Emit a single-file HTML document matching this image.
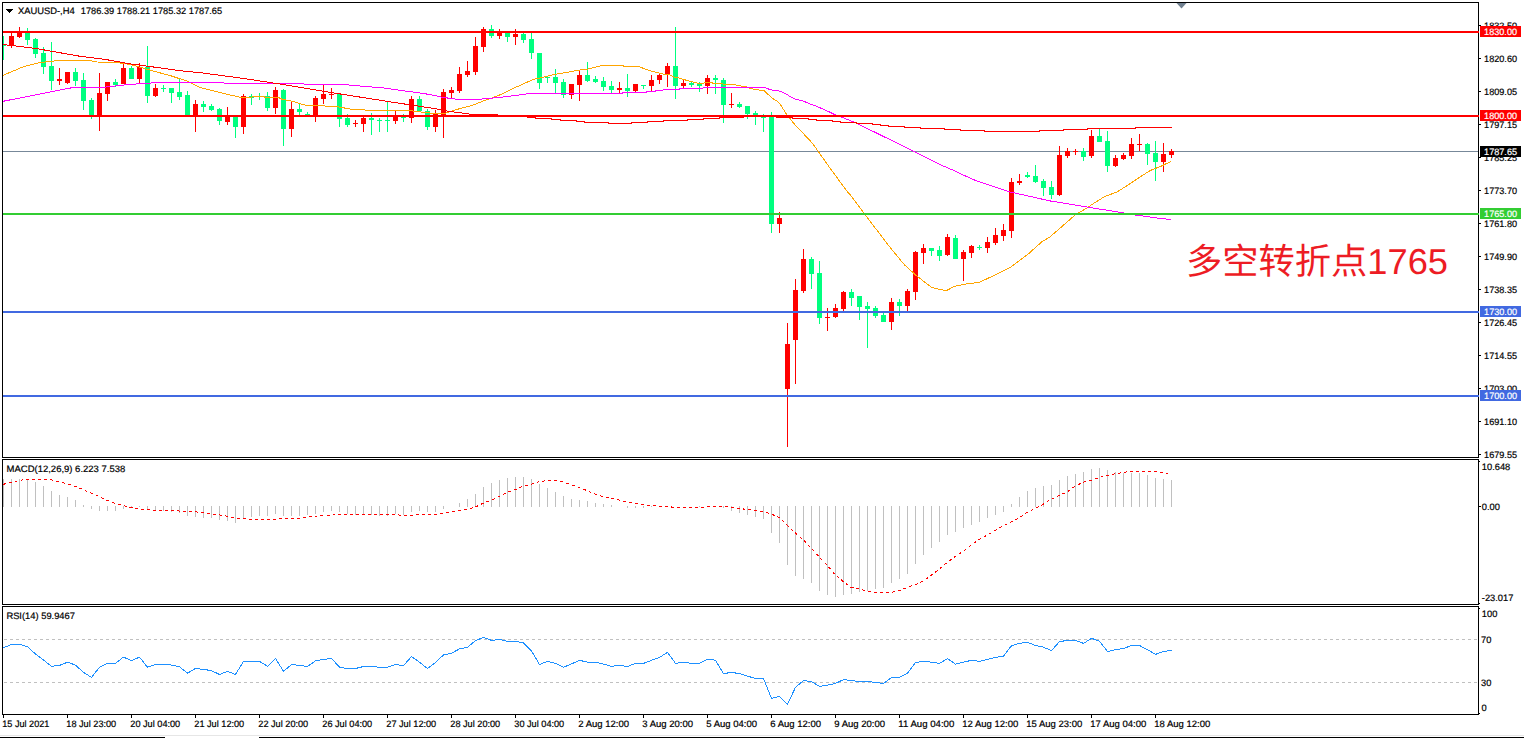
<!DOCTYPE html>
<html><head><meta charset="utf-8"><title>XAUUSD H4</title>
<style>
html,body{margin:0;padding:0;background:#fff;}
body{width:1524px;height:738px;overflow:hidden;font-family:"Liberation Sans",sans-serif;}
svg{display:block;}
</style></head><body>
<svg width="1524" height="738" viewBox="0 0 1524 738" shape-rendering="crispEdges" font-family="'Liberation Sans', sans-serif" text-rendering="geometricPrecision"><rect x="0" y="0" width="1524" height="738" fill="#fff"/>
<rect x="3" y="151" width="1475" height="1" fill="#778899"/>
<rect x="3" y="36" width="1" height="24" fill="#00FF7F"/>
<rect x="3" y="45" width="3" height="1" fill="#00FF7F"/>
<rect x="11" y="32" width="1" height="16" fill="#FF0000"/>
<rect x="9" y="36" width="5" height="9" fill="#FF0000"/>
<rect x="19" y="27" width="1" height="11" fill="#FF0000"/>
<rect x="17" y="32" width="5" height="5" fill="#FF0000"/>
<rect x="27" y="28" width="1" height="17" fill="#00FF7F"/>
<rect x="25" y="32" width="5" height="8" fill="#00FF7F"/>
<rect x="35" y="38" width="1" height="20" fill="#00FF7F"/>
<rect x="33" y="39" width="5" height="15" fill="#00FF7F"/>
<rect x="43" y="47" width="1" height="27" fill="#00FF7F"/>
<rect x="41" y="53" width="5" height="14" fill="#00FF7F"/>
<rect x="51" y="42" width="1" height="48" fill="#00FF7F"/>
<rect x="49" y="66" width="5" height="15" fill="#00FF7F"/>
<rect x="59" y="68" width="1" height="17" fill="#FF0000"/>
<rect x="57" y="79" width="5" height="2" fill="#FF0000"/>
<rect x="67" y="72" width="1" height="12" fill="#FF0000"/>
<rect x="65" y="72" width="5" height="11" fill="#FF0000"/>
<rect x="75" y="68" width="1" height="18" fill="#00FF7F"/>
<rect x="73" y="72" width="5" height="9" fill="#00FF7F"/>
<rect x="83" y="73" width="1" height="37" fill="#00FF7F"/>
<rect x="81" y="80" width="5" height="21" fill="#00FF7F"/>
<rect x="91" y="98" width="1" height="21" fill="#00FF7F"/>
<rect x="89" y="100" width="5" height="16" fill="#00FF7F"/>
<rect x="99" y="73" width="1" height="58" fill="#FF0000"/>
<rect x="97" y="93" width="5" height="23" fill="#FF0000"/>
<rect x="107" y="82" width="1" height="19" fill="#FF0000"/>
<rect x="105" y="82" width="5" height="12" fill="#FF0000"/>
<rect x="115" y="79" width="1" height="8" fill="#00FF7F"/>
<rect x="113" y="82" width="5" height="3" fill="#00FF7F"/>
<rect x="123" y="64" width="1" height="20" fill="#FF0000"/>
<rect x="121" y="68" width="5" height="16" fill="#FF0000"/>
<rect x="131" y="66" width="1" height="13" fill="#00FF7F"/>
<rect x="129" y="68" width="5" height="11" fill="#00FF7F"/>
<rect x="139" y="63" width="1" height="20" fill="#FF0000"/>
<rect x="137" y="67" width="5" height="12" fill="#FF0000"/>
<rect x="147" y="46" width="1" height="57" fill="#00FF7F"/>
<rect x="145" y="67" width="5" height="29" fill="#00FF7F"/>
<rect x="155" y="84" width="1" height="13" fill="#FF0000"/>
<rect x="153" y="88" width="5" height="8" fill="#FF0000"/>
<rect x="163" y="85" width="1" height="7" fill="#00FF7F"/>
<rect x="161" y="88" width="5" height="1" fill="#00FF7F"/>
<rect x="171" y="88" width="1" height="15" fill="#00FF7F"/>
<rect x="169" y="88" width="5" height="5" fill="#00FF7F"/>
<rect x="179" y="79" width="1" height="21" fill="#00FF7F"/>
<rect x="177" y="92" width="5" height="5" fill="#00FF7F"/>
<rect x="187" y="91" width="1" height="25" fill="#00FF7F"/>
<rect x="185" y="95" width="5" height="21" fill="#00FF7F"/>
<rect x="195" y="100" width="1" height="32" fill="#FF0000"/>
<rect x="193" y="104" width="5" height="12" fill="#FF0000"/>
<rect x="203" y="101" width="1" height="11" fill="#00FF7F"/>
<rect x="201" y="104" width="5" height="3" fill="#00FF7F"/>
<rect x="211" y="104" width="1" height="7" fill="#00FF7F"/>
<rect x="209" y="106" width="5" height="4" fill="#00FF7F"/>
<rect x="219" y="108" width="1" height="17" fill="#00FF7F"/>
<rect x="217" y="109" width="5" height="12" fill="#00FF7F"/>
<rect x="227" y="107" width="1" height="18" fill="#FF0000"/>
<rect x="225" y="115" width="5" height="7" fill="#FF0000"/>
<rect x="235" y="116" width="1" height="22" fill="#00FF7F"/>
<rect x="233" y="116" width="5" height="11" fill="#00FF7F"/>
<rect x="243" y="94" width="1" height="40" fill="#FF0000"/>
<rect x="241" y="96" width="5" height="31" fill="#FF0000"/>
<rect x="251" y="94" width="1" height="11" fill="#00FF7F"/>
<rect x="249" y="96" width="5" height="2" fill="#00FF7F"/>
<rect x="259" y="93" width="1" height="7" fill="#00FF7F"/>
<rect x="267" y="92" width="1" height="19" fill="#00FF7F"/>
<rect x="265" y="96" width="5" height="12" fill="#00FF7F"/>
<rect x="275" y="87" width="1" height="27" fill="#FF0000"/>
<rect x="273" y="90" width="5" height="18" fill="#FF0000"/>
<rect x="283" y="89" width="1" height="57" fill="#00FF7F"/>
<rect x="281" y="90" width="5" height="39" fill="#00FF7F"/>
<rect x="291" y="102" width="1" height="35" fill="#FF0000"/>
<rect x="289" y="109" width="5" height="20" fill="#FF0000"/>
<rect x="299" y="104" width="1" height="11" fill="#00FF7F"/>
<rect x="297" y="109" width="5" height="3" fill="#00FF7F"/>
<rect x="307" y="112" width="1" height="4" fill="#00FF7F"/>
<rect x="305" y="114" width="5" height="2" fill="#00FF7F"/>
<rect x="315" y="96" width="1" height="26" fill="#FF0000"/>
<rect x="313" y="98" width="5" height="18" fill="#FF0000"/>
<rect x="323" y="85" width="1" height="19" fill="#FF0000"/>
<rect x="321" y="94" width="5" height="5" fill="#FF0000"/>
<rect x="331" y="88" width="1" height="11" fill="#FF0000"/>
<rect x="329" y="94" width="5" height="1" fill="#FF0000"/>
<rect x="339" y="93" width="1" height="34" fill="#00FF7F"/>
<rect x="337" y="94" width="5" height="25" fill="#00FF7F"/>
<rect x="347" y="114" width="1" height="13" fill="#00FF7F"/>
<rect x="345" y="118" width="5" height="7" fill="#00FF7F"/>
<rect x="355" y="120" width="1" height="7" fill="#FF0000"/>
<rect x="353" y="123" width="5" height="1" fill="#FF0000"/>
<rect x="363" y="116" width="1" height="16" fill="#FF0000"/>
<rect x="361" y="118" width="5" height="6" fill="#FF0000"/>
<rect x="371" y="113" width="1" height="22" fill="#00FF7F"/>
<rect x="369" y="118" width="5" height="2" fill="#00FF7F"/>
<rect x="379" y="118" width="1" height="14" fill="#00FF7F"/>
<rect x="377" y="120" width="5" height="1" fill="#00FF7F"/>
<rect x="387" y="102" width="1" height="30" fill="#00FF7F"/>
<rect x="385" y="120" width="5" height="1" fill="#00FF7F"/>
<rect x="395" y="111" width="1" height="13" fill="#FF0000"/>
<rect x="393" y="116" width="5" height="5" fill="#FF0000"/>
<rect x="403" y="114" width="1" height="8" fill="#00FF7F"/>
<rect x="401" y="117" width="5" height="1" fill="#00FF7F"/>
<rect x="411" y="96" width="1" height="27" fill="#FF0000"/>
<rect x="409" y="99" width="5" height="19" fill="#FF0000"/>
<rect x="419" y="96" width="1" height="15" fill="#00FF7F"/>
<rect x="417" y="99" width="5" height="12" fill="#00FF7F"/>
<rect x="427" y="109" width="1" height="21" fill="#00FF7F"/>
<rect x="425" y="111" width="5" height="16" fill="#00FF7F"/>
<rect x="435" y="110" width="1" height="22" fill="#FF0000"/>
<rect x="433" y="114" width="5" height="13" fill="#FF0000"/>
<rect x="443" y="89" width="1" height="49" fill="#FF0000"/>
<rect x="441" y="92" width="5" height="24" fill="#FF0000"/>
<rect x="451" y="87" width="1" height="11" fill="#FF0000"/>
<rect x="449" y="90" width="5" height="3" fill="#FF0000"/>
<rect x="459" y="67" width="1" height="26" fill="#FF0000"/>
<rect x="457" y="74" width="5" height="17" fill="#FF0000"/>
<rect x="467" y="61" width="1" height="16" fill="#FF0000"/>
<rect x="465" y="71" width="5" height="4" fill="#FF0000"/>
<rect x="475" y="37" width="1" height="38" fill="#FF0000"/>
<rect x="473" y="46" width="5" height="26" fill="#FF0000"/>
<rect x="483" y="27" width="1" height="25" fill="#FF0000"/>
<rect x="481" y="29" width="5" height="18" fill="#FF0000"/>
<rect x="491" y="25" width="1" height="13" fill="#00FF7F"/>
<rect x="489" y="29" width="5" height="7" fill="#00FF7F"/>
<rect x="499" y="29" width="1" height="10" fill="#FF0000"/>
<rect x="497" y="32" width="5" height="4" fill="#FF0000"/>
<rect x="507" y="32" width="1" height="10" fill="#00FF7F"/>
<rect x="505" y="32" width="5" height="5" fill="#00FF7F"/>
<rect x="515" y="29" width="1" height="16" fill="#FF0000"/>
<rect x="513" y="34" width="5" height="3" fill="#FF0000"/>
<rect x="523" y="33" width="1" height="10" fill="#00FF7F"/>
<rect x="521" y="34" width="5" height="6" fill="#00FF7F"/>
<rect x="531" y="33" width="1" height="26" fill="#00FF7F"/>
<rect x="529" y="39" width="5" height="14" fill="#00FF7F"/>
<rect x="539" y="53" width="1" height="36" fill="#00FF7F"/>
<rect x="537" y="53" width="5" height="30" fill="#00FF7F"/>
<rect x="547" y="76" width="1" height="7" fill="#00FF7F"/>
<rect x="545" y="77" width="5" height="1" fill="#00FF7F"/>
<rect x="555" y="69" width="1" height="24" fill="#00FF7F"/>
<rect x="553" y="77" width="5" height="6" fill="#00FF7F"/>
<rect x="563" y="79" width="1" height="19" fill="#00FF7F"/>
<rect x="561" y="82" width="5" height="13" fill="#00FF7F"/>
<rect x="571" y="84" width="1" height="15" fill="#FF0000"/>
<rect x="569" y="84" width="5" height="11" fill="#FF0000"/>
<rect x="579" y="71" width="1" height="30" fill="#FF0000"/>
<rect x="577" y="75" width="5" height="10" fill="#FF0000"/>
<rect x="587" y="62" width="1" height="20" fill="#00FF7F"/>
<rect x="585" y="75" width="5" height="6" fill="#00FF7F"/>
<rect x="595" y="76" width="1" height="7" fill="#00FF7F"/>
<rect x="593" y="79" width="5" height="3" fill="#00FF7F"/>
<rect x="603" y="77" width="1" height="14" fill="#00FF7F"/>
<rect x="601" y="81" width="5" height="6" fill="#00FF7F"/>
<rect x="611" y="81" width="1" height="12" fill="#00FF7F"/>
<rect x="609" y="86" width="5" height="4" fill="#00FF7F"/>
<rect x="619" y="82" width="1" height="11" fill="#FF0000"/>
<rect x="617" y="88" width="5" height="2" fill="#FF0000"/>
<rect x="627" y="74" width="1" height="23" fill="#00FF7F"/>
<rect x="625" y="88" width="5" height="3" fill="#00FF7F"/>
<rect x="635" y="84" width="1" height="8" fill="#FF0000"/>
<rect x="633" y="84" width="5" height="7" fill="#FF0000"/>
<rect x="643" y="85" width="1" height="4" fill="#00FF7F"/>
<rect x="641" y="85" width="5" height="1" fill="#00FF7F"/>
<rect x="651" y="75" width="1" height="16" fill="#FF0000"/>
<rect x="649" y="80" width="5" height="6" fill="#FF0000"/>
<rect x="659" y="74" width="1" height="10" fill="#FF0000"/>
<rect x="657" y="75" width="5" height="5" fill="#FF0000"/>
<rect x="667" y="63" width="1" height="24" fill="#FF0000"/>
<rect x="665" y="66" width="5" height="9" fill="#FF0000"/>
<rect x="675" y="27" width="1" height="72" fill="#00FF7F"/>
<rect x="673" y="66" width="5" height="20" fill="#00FF7F"/>
<rect x="683" y="80" width="1" height="8" fill="#FF0000"/>
<rect x="681" y="83" width="5" height="3" fill="#FF0000"/>
<rect x="691" y="82" width="1" height="5" fill="#00FF7F"/>
<rect x="689" y="83" width="5" height="2" fill="#00FF7F"/>
<rect x="699" y="82" width="1" height="10" fill="#00FF7F"/>
<rect x="697" y="83" width="5" height="3" fill="#00FF7F"/>
<rect x="707" y="75" width="1" height="19" fill="#FF0000"/>
<rect x="705" y="78" width="5" height="8" fill="#FF0000"/>
<rect x="715" y="75" width="1" height="19" fill="#00FF7F"/>
<rect x="713" y="78" width="5" height="2" fill="#00FF7F"/>
<rect x="723" y="78" width="1" height="45" fill="#00FF7F"/>
<rect x="721" y="80" width="5" height="25" fill="#00FF7F"/>
<rect x="731" y="93" width="1" height="15" fill="#FF0000"/>
<rect x="729" y="104" width="5" height="1" fill="#FF0000"/>
<rect x="739" y="102" width="1" height="6" fill="#00FF7F"/>
<rect x="737" y="104" width="5" height="3" fill="#00FF7F"/>
<rect x="747" y="106" width="1" height="13" fill="#00FF7F"/>
<rect x="745" y="106" width="5" height="8" fill="#00FF7F"/>
<rect x="755" y="111" width="1" height="14" fill="#00FF7F"/>
<rect x="753" y="113" width="5" height="3" fill="#00FF7F"/>
<rect x="763" y="114" width="1" height="18" fill="#00FF7F"/>
<rect x="761" y="116" width="5" height="2" fill="#00FF7F"/>
<rect x="771" y="112" width="1" height="121" fill="#00FF7F"/>
<rect x="769" y="115" width="5" height="109" fill="#00FF7F"/>
<rect x="779" y="212" width="1" height="21" fill="#FF0000"/>
<rect x="777" y="218" width="5" height="6" fill="#FF0000"/>
<rect x="787" y="323" width="1" height="124" fill="#FF0000"/>
<rect x="785" y="344" width="5" height="45" fill="#FF0000"/>
<rect x="795" y="279" width="1" height="105" fill="#FF0000"/>
<rect x="793" y="290" width="5" height="50" fill="#FF0000"/>
<rect x="803" y="249" width="1" height="44" fill="#FF0000"/>
<rect x="801" y="259" width="5" height="32" fill="#FF0000"/>
<rect x="811" y="257" width="1" height="32" fill="#00FF7F"/>
<rect x="809" y="259" width="5" height="15" fill="#00FF7F"/>
<rect x="819" y="261" width="1" height="63" fill="#00FF7F"/>
<rect x="817" y="273" width="5" height="45" fill="#00FF7F"/>
<rect x="827" y="308" width="1" height="23" fill="#FF0000"/>
<rect x="825" y="317" width="5" height="1" fill="#FF0000"/>
<rect x="835" y="304" width="1" height="14" fill="#FF0000"/>
<rect x="833" y="308" width="5" height="9" fill="#FF0000"/>
<rect x="843" y="291" width="1" height="20" fill="#FF0000"/>
<rect x="841" y="292" width="5" height="17" fill="#FF0000"/>
<rect x="851" y="289" width="1" height="17" fill="#00FF7F"/>
<rect x="849" y="292" width="5" height="6" fill="#00FF7F"/>
<rect x="859" y="296" width="1" height="24" fill="#00FF7F"/>
<rect x="857" y="296" width="5" height="11" fill="#00FF7F"/>
<rect x="867" y="302" width="1" height="46" fill="#00FF7F"/>
<rect x="865" y="306" width="5" height="3" fill="#00FF7F"/>
<rect x="875" y="306" width="1" height="12" fill="#00FF7F"/>
<rect x="873" y="308" width="5" height="8" fill="#00FF7F"/>
<rect x="883" y="313" width="1" height="9" fill="#00FF7F"/>
<rect x="881" y="315" width="5" height="7" fill="#00FF7F"/>
<rect x="891" y="298" width="1" height="32" fill="#FF0000"/>
<rect x="889" y="302" width="5" height="20" fill="#FF0000"/>
<rect x="899" y="299" width="1" height="17" fill="#00FF7F"/>
<rect x="897" y="302" width="5" height="4" fill="#00FF7F"/>
<rect x="907" y="289" width="1" height="22" fill="#FF0000"/>
<rect x="905" y="291" width="5" height="15" fill="#FF0000"/>
<rect x="915" y="251" width="1" height="49" fill="#FF0000"/>
<rect x="913" y="252" width="5" height="40" fill="#FF0000"/>
<rect x="923" y="244" width="1" height="20" fill="#FF0000"/>
<rect x="921" y="248" width="5" height="5" fill="#FF0000"/>
<rect x="931" y="248" width="1" height="8" fill="#00FF7F"/>
<rect x="929" y="248" width="5" height="3" fill="#00FF7F"/>
<rect x="939" y="246" width="1" height="15" fill="#00FF7F"/>
<rect x="937" y="250" width="5" height="6" fill="#00FF7F"/>
<rect x="947" y="234" width="1" height="22" fill="#FF0000"/>
<rect x="945" y="237" width="5" height="18" fill="#FF0000"/>
<rect x="955" y="235" width="1" height="24" fill="#00FF7F"/>
<rect x="953" y="238" width="5" height="21" fill="#00FF7F"/>
<rect x="963" y="250" width="1" height="31" fill="#FF0000"/>
<rect x="961" y="252" width="5" height="7" fill="#FF0000"/>
<rect x="971" y="245" width="1" height="13" fill="#FF0000"/>
<rect x="969" y="246" width="5" height="7" fill="#FF0000"/>
<rect x="979" y="245" width="1" height="5" fill="#00FF7F"/>
<rect x="977" y="247" width="5" height="1" fill="#00FF7F"/>
<rect x="987" y="237" width="1" height="16" fill="#FF0000"/>
<rect x="985" y="242" width="5" height="6" fill="#FF0000"/>
<rect x="995" y="228" width="1" height="17" fill="#FF0000"/>
<rect x="993" y="235" width="5" height="8" fill="#FF0000"/>
<rect x="1003" y="224" width="1" height="17" fill="#FF0000"/>
<rect x="1001" y="230" width="5" height="6" fill="#FF0000"/>
<rect x="1011" y="178" width="1" height="60" fill="#FF0000"/>
<rect x="1009" y="182" width="5" height="49" fill="#FF0000"/>
<rect x="1019" y="174" width="1" height="11" fill="#FF0000"/>
<rect x="1017" y="181" width="5" height="2" fill="#FF0000"/>
<rect x="1027" y="172" width="1" height="6" fill="#00FF7F"/>
<rect x="1025" y="175" width="5" height="2" fill="#00FF7F"/>
<rect x="1035" y="165" width="1" height="18" fill="#00FF7F"/>
<rect x="1033" y="176" width="5" height="6" fill="#00FF7F"/>
<rect x="1043" y="179" width="1" height="17" fill="#00FF7F"/>
<rect x="1041" y="181" width="5" height="7" fill="#00FF7F"/>
<rect x="1051" y="181" width="1" height="18" fill="#00FF7F"/>
<rect x="1049" y="187" width="5" height="8" fill="#00FF7F"/>
<rect x="1059" y="146" width="1" height="50" fill="#FF0000"/>
<rect x="1057" y="155" width="5" height="40" fill="#FF0000"/>
<rect x="1067" y="148" width="1" height="10" fill="#FF0000"/>
<rect x="1065" y="151" width="5" height="5" fill="#FF0000"/>
<rect x="1075" y="149" width="1" height="6" fill="#FF0000"/>
<rect x="1073" y="151" width="5" height="1" fill="#FF0000"/>
<rect x="1083" y="148" width="1" height="13" fill="#00FF7F"/>
<rect x="1081" y="151" width="5" height="6" fill="#00FF7F"/>
<rect x="1091" y="130" width="1" height="28" fill="#FF0000"/>
<rect x="1089" y="136" width="5" height="20" fill="#FF0000"/>
<rect x="1099" y="129" width="1" height="13" fill="#00FF7F"/>
<rect x="1097" y="136" width="5" height="6" fill="#00FF7F"/>
<rect x="1107" y="131" width="1" height="41" fill="#00FF7F"/>
<rect x="1105" y="141" width="5" height="25" fill="#00FF7F"/>
<rect x="1115" y="155" width="1" height="12" fill="#FF0000"/>
<rect x="1113" y="158" width="5" height="8" fill="#FF0000"/>
<rect x="1123" y="153" width="1" height="7" fill="#FF0000"/>
<rect x="1121" y="155" width="5" height="4" fill="#FF0000"/>
<rect x="1131" y="138" width="1" height="21" fill="#FF0000"/>
<rect x="1129" y="144" width="5" height="12" fill="#FF0000"/>
<rect x="1139" y="134" width="1" height="17" fill="#FF0000"/>
<rect x="1137" y="144" width="5" height="1" fill="#FF0000"/>
<rect x="1147" y="143" width="1" height="22" fill="#00FF7F"/>
<rect x="1145" y="144" width="5" height="10" fill="#00FF7F"/>
<rect x="1155" y="141" width="1" height="40" fill="#00FF7F"/>
<rect x="1153" y="153" width="5" height="9" fill="#00FF7F"/>
<rect x="1163" y="143" width="1" height="29" fill="#FF0000"/>
<rect x="1161" y="154" width="5" height="8" fill="#FF0000"/>
<rect x="1171" y="149" width="1" height="9" fill="#FF0000"/>
<rect x="1169" y="151" width="5" height="4" fill="#FF0000"/>
<polyline points="2,75.8 23.7,66.6 39.4,62.7 63,60 86.7,60 97.2,62 118,62.7 131.4,64.7 147,69.3 170.8,75.8 187,81.1 200,87.5 207.9,89.4 215.7,91.4 223.6,93.4 231.5,95.4 237.8,96.5 240.9,97.5 248.8,97.5 255.1,96.5 263.8,96.5 265.4,97.5 278.7,97.5 281.9,99.3 288.2,100.3 292.9,101.4 299.2,103.4 305.5,105.2 320,105.4 328.7,106.4 338.5,106.9 351.6,109.3 368,110.2 407.4,110.2 418.8,111.8 430.3,113 436.9,113.9 445,113.3 457.3,109.3 471.5,105.7 482,101.5 494.6,97 503,93.6 513.5,88.3 524,83.6 533.4,79.4 545,76.8 555.5,74.2 566,72.6 576.5,70.5 587,69.2 590,68.4 596.3,66.9 601.5,65.5 623,65.5 624,66.4 637.8,66.4 641.4,67.6 646.7,69.7 653,71.6 658.2,72.8 663.5,74.1 669.8,74.9 674,77 680.3,78.3 684.5,79.7 689.7,81.2 695,82.5 699.2,83.4 702.9,83.4 705.5,82.5 710.7,82.5 713.9,83.4 721.2,83.6 725.4,84.4 734.9,84.6 737,85.4 742.2,86.2 745.9,86.5 750,88.4 754.4,89.4 760,90.2 764,90.6 767,93.4 772.5,98.3 777.2,101.2 780,104 783.5,109.5 786.5,114.2 794,123.7 812.6,143.4 818.5,151.9 828.3,165.7 846,190 852,197 863.8,213 878.3,232 891.4,249.1 904.5,264.9 916.8,276 931.7,287.4 939.6,289.4 946.5,290.6 954.4,286.4 964.3,284.2 979.2,282.4 994,275.5 1010.8,267.1 1028.6,253.7 1042,241.6 1050,236.9 1074.8,215.3 1088,207.2 1095.9,202 1104.6,196.6 1113.2,193.4 1117.6,191.7 1128.4,184.7 1139.2,177.6 1150,170.6 1160.9,166.3 1171,161.4" fill="none" stroke="#FFA500" stroke-width="1"/>
<polyline points="2,101.5 72,87.7 100,87.7 130,84.4 160,82.4 200,82.4 223,82.4 225,83.5 303,83.5 305,84.4 343,84.5 355,85.6 368,86.7 384.4,88 397.5,90 414,92.1 430.3,94.6 444,97.6 451.8,98.5 458,99.6 476,99.6 486.7,98.5 498.8,97.6 507.2,96.5 515.3,95.5 523.2,94.4 531,93.4 580,93.4 622,93.5 623,92.5 646,92.5 647,91.5 655,91.4 656,90.4 662.5,90.4 663.5,89.4 679,89.4 680,88.4 702.5,88.4 703.5,87.4 764.6,87.4 767.8,88.6 770.2,89.8 775.7,90.4 780.4,91.4 785.1,93.4 789.8,96.3 795.4,99.3 800.9,100.4 805.6,102 811.1,104.4 816.6,106.3 822.9,109.1 828.4,111.5 833.9,114.2 835,114.5 854.6,122.3 915,151.9 941,165 952.6,170 960,173.6 976.3,180.8 1009,191.7 1049.9,200.9 1088,207.2 1120.8,212.4 1136.6,215.3 1147,216.4 1152,217.4 1161,218.5 1171,219.5" fill="none" stroke="#FF00FF" stroke-width="1"/>
<polyline points="3,44.5 20,46.5 36,48.5 53,51.5 79,56.1 105,59.4 131,64 158,67.6 184,71.2 200,72.6 243,78.4 282,84.3 321,90.9 348,95.2 390,101.8 440,109.4 446,110.9 472,114.4 496,114.6 500,115.6 527,116.5 528,117.5 535,117.5 535,118.5 551,118.5 551,119.5 560,119.5 560,120.5 576,120.5 576,121.5 584,121.5 584,122.5 608,122.5 608,123.5 631,123.5 631,122.5 647,122.5 647,121.5 663,121.5 663,120.5 687,120.5 687,119.5 703,119.5 703,118.5 719,118.5 719,117.5 743,117.5 743,116.5 776,116.5 776,117.5 792,117.5 792,118.5 808,118.5 808,119.5 816,119.5 816,120.5 832,120.5 832,121.5 840,121.5 840,122.5 856,122.5 856,123.5 872,123.5 872,124.5 880,124.5 880,125.5 888,125.5 888,126.5 904,126.5 904,127.5 920,127.5 920,128.5 944,128.5 944,129.5 960,129.5 960,130.5 984,130.5 984,131.5 1039,131.5 1039,130.5 1063,130.5 1063,129.5 1087,129.5 1087,128.5 1135,128.5 1135,127.5 1171.5,127.5" fill="none" stroke="#FF0000" stroke-width="1"/>
<rect x="3" y="31" width="1475" height="2" fill="#FF0000"/>
<rect x="3" y="115" width="1475" height="2" fill="#FF0000"/>
<rect x="3" y="213" width="1475" height="2" fill="#32CD32"/>
<rect x="3" y="311" width="1475" height="2" fill="#4169E1"/>
<rect x="3" y="395" width="1475" height="2" fill="#4169E1"/>
<rect x="3" y="479" width="1" height="28" fill="#C0C0C0"/>
<rect x="11" y="479" width="1" height="28" fill="#C0C0C0"/>
<rect x="19" y="479" width="1" height="28" fill="#C0C0C0"/>
<rect x="27" y="479" width="1" height="28" fill="#C0C0C0"/>
<rect x="35" y="482" width="1" height="25" fill="#C0C0C0"/>
<rect x="43" y="486" width="1" height="21" fill="#C0C0C0"/>
<rect x="51" y="491" width="1" height="16" fill="#C0C0C0"/>
<rect x="59" y="495" width="1" height="12" fill="#C0C0C0"/>
<rect x="67" y="497" width="1" height="10" fill="#C0C0C0"/>
<rect x="75" y="500" width="1" height="7" fill="#C0C0C0"/>
<rect x="83" y="505" width="1" height="2" fill="#C0C0C0"/>
<rect x="91" y="506" width="1" height="3" fill="#C0C0C0"/>
<rect x="99" y="506" width="1" height="5" fill="#C0C0C0"/>
<rect x="107" y="506" width="1" height="5" fill="#C0C0C0"/>
<rect x="115" y="506" width="1" height="5" fill="#C0C0C0"/>
<rect x="123" y="506" width="1" height="3" fill="#C0C0C0"/>
<rect x="131" y="506" width="1" height="2" fill="#C0C0C0"/>
<rect x="139" y="506" width="1" height="1" fill="#C0C0C0"/>
<rect x="147" y="506" width="1" height="4" fill="#C0C0C0"/>
<rect x="155" y="506" width="1" height="5" fill="#C0C0C0"/>
<rect x="163" y="506" width="1" height="5" fill="#C0C0C0"/>
<rect x="171" y="506" width="1" height="6" fill="#C0C0C0"/>
<rect x="179" y="506" width="1" height="7" fill="#C0C0C0"/>
<rect x="187" y="506" width="1" height="10" fill="#C0C0C0"/>
<rect x="195" y="506" width="1" height="11" fill="#C0C0C0"/>
<rect x="203" y="506" width="1" height="12" fill="#C0C0C0"/>
<rect x="211" y="506" width="1" height="12" fill="#C0C0C0"/>
<rect x="219" y="506" width="1" height="14" fill="#C0C0C0"/>
<rect x="227" y="506" width="1" height="15" fill="#C0C0C0"/>
<rect x="235" y="506" width="1" height="17" fill="#C0C0C0"/>
<rect x="243" y="506" width="1" height="13" fill="#C0C0C0"/>
<rect x="251" y="506" width="1" height="11" fill="#C0C0C0"/>
<rect x="259" y="506" width="1" height="10" fill="#C0C0C0"/>
<rect x="267" y="506" width="1" height="10" fill="#C0C0C0"/>
<rect x="275" y="506" width="1" height="8" fill="#C0C0C0"/>
<rect x="283" y="506" width="1" height="10" fill="#C0C0C0"/>
<rect x="291" y="506" width="1" height="10" fill="#C0C0C0"/>
<rect x="299" y="506" width="1" height="10" fill="#C0C0C0"/>
<rect x="307" y="506" width="1" height="9" fill="#C0C0C0"/>
<rect x="315" y="506" width="1" height="8" fill="#C0C0C0"/>
<rect x="323" y="506" width="1" height="6" fill="#C0C0C0"/>
<rect x="331" y="506" width="1" height="5" fill="#C0C0C0"/>
<rect x="339" y="506" width="1" height="6" fill="#C0C0C0"/>
<rect x="347" y="506" width="1" height="8" fill="#C0C0C0"/>
<rect x="355" y="506" width="1" height="9" fill="#C0C0C0"/>
<rect x="363" y="506" width="1" height="8" fill="#C0C0C0"/>
<rect x="371" y="506" width="1" height="9" fill="#C0C0C0"/>
<rect x="379" y="506" width="1" height="10" fill="#C0C0C0"/>
<rect x="387" y="506" width="1" height="10" fill="#C0C0C0"/>
<rect x="395" y="506" width="1" height="8" fill="#C0C0C0"/>
<rect x="403" y="506" width="1" height="9" fill="#C0C0C0"/>
<rect x="411" y="506" width="1" height="6" fill="#C0C0C0"/>
<rect x="419" y="506" width="1" height="5" fill="#C0C0C0"/>
<rect x="427" y="506" width="1" height="6" fill="#C0C0C0"/>
<rect x="435" y="506" width="1" height="6" fill="#C0C0C0"/>
<rect x="443" y="506" width="1" height="3" fill="#C0C0C0"/>
<rect x="459" y="503" width="1" height="4" fill="#C0C0C0"/>
<rect x="467" y="499" width="1" height="8" fill="#C0C0C0"/>
<rect x="475" y="494" width="1" height="13" fill="#C0C0C0"/>
<rect x="483" y="487" width="1" height="20" fill="#C0C0C0"/>
<rect x="491" y="483" width="1" height="24" fill="#C0C0C0"/>
<rect x="499" y="480" width="1" height="27" fill="#C0C0C0"/>
<rect x="507" y="478" width="1" height="29" fill="#C0C0C0"/>
<rect x="515" y="477" width="1" height="30" fill="#C0C0C0"/>
<rect x="523" y="477" width="1" height="30" fill="#C0C0C0"/>
<rect x="531" y="479" width="1" height="28" fill="#C0C0C0"/>
<rect x="539" y="484" width="1" height="23" fill="#C0C0C0"/>
<rect x="547" y="488" width="1" height="19" fill="#C0C0C0"/>
<rect x="555" y="492" width="1" height="15" fill="#C0C0C0"/>
<rect x="563" y="496" width="1" height="11" fill="#C0C0C0"/>
<rect x="571" y="499" width="1" height="8" fill="#C0C0C0"/>
<rect x="579" y="500" width="1" height="7" fill="#C0C0C0"/>
<rect x="587" y="501" width="1" height="6" fill="#C0C0C0"/>
<rect x="595" y="503" width="1" height="4" fill="#C0C0C0"/>
<rect x="603" y="504" width="1" height="3" fill="#C0C0C0"/>
<rect x="611" y="505" width="1" height="2" fill="#C0C0C0"/>
<rect x="627" y="506" width="1" height="2" fill="#C0C0C0"/>
<rect x="635" y="506" width="1" height="2" fill="#C0C0C0"/>
<rect x="643" y="506" width="1" height="2" fill="#C0C0C0"/>
<rect x="651" y="506" width="1" height="1" fill="#C0C0C0"/>
<rect x="667" y="506" width="1" height="1" fill="#C0C0C0"/>
<rect x="699" y="506" width="1" height="1" fill="#C0C0C0"/>
<rect x="723" y="506" width="1" height="2" fill="#C0C0C0"/>
<rect x="731" y="506" width="1" height="5" fill="#C0C0C0"/>
<rect x="739" y="506" width="1" height="7" fill="#C0C0C0"/>
<rect x="747" y="506" width="1" height="9" fill="#C0C0C0"/>
<rect x="755" y="506" width="1" height="11" fill="#C0C0C0"/>
<rect x="763" y="506" width="1" height="13" fill="#C0C0C0"/>
<rect x="771" y="506" width="1" height="27" fill="#C0C0C0"/>
<rect x="779" y="506" width="1" height="37" fill="#C0C0C0"/>
<rect x="787" y="506" width="1" height="59" fill="#C0C0C0"/>
<rect x="795" y="506" width="1" height="70" fill="#C0C0C0"/>
<rect x="803" y="506" width="1" height="73" fill="#C0C0C0"/>
<rect x="811" y="506" width="1" height="77" fill="#C0C0C0"/>
<rect x="819" y="506" width="1" height="85" fill="#C0C0C0"/>
<rect x="827" y="506" width="1" height="89" fill="#C0C0C0"/>
<rect x="835" y="506" width="1" height="91" fill="#C0C0C0"/>
<rect x="843" y="506" width="1" height="89" fill="#C0C0C0"/>
<rect x="851" y="506" width="1" height="88" fill="#C0C0C0"/>
<rect x="859" y="506" width="1" height="86" fill="#C0C0C0"/>
<rect x="867" y="506" width="1" height="85" fill="#C0C0C0"/>
<rect x="875" y="506" width="1" height="83" fill="#C0C0C0"/>
<rect x="883" y="506" width="1" height="82" fill="#C0C0C0"/>
<rect x="891" y="506" width="1" height="77" fill="#C0C0C0"/>
<rect x="899" y="506" width="1" height="73" fill="#C0C0C0"/>
<rect x="907" y="506" width="1" height="68" fill="#C0C0C0"/>
<rect x="915" y="506" width="1" height="58" fill="#C0C0C0"/>
<rect x="923" y="506" width="1" height="49" fill="#C0C0C0"/>
<rect x="931" y="506" width="1" height="42" fill="#C0C0C0"/>
<rect x="939" y="506" width="1" height="36" fill="#C0C0C0"/>
<rect x="947" y="506" width="1" height="29" fill="#C0C0C0"/>
<rect x="955" y="506" width="1" height="26" fill="#C0C0C0"/>
<rect x="963" y="506" width="1" height="22" fill="#C0C0C0"/>
<rect x="971" y="506" width="1" height="19" fill="#C0C0C0"/>
<rect x="979" y="506" width="1" height="16" fill="#C0C0C0"/>
<rect x="987" y="506" width="1" height="12" fill="#C0C0C0"/>
<rect x="995" y="506" width="1" height="9" fill="#C0C0C0"/>
<rect x="1003" y="506" width="1" height="6" fill="#C0C0C0"/>
<rect x="1011" y="504" width="1" height="3" fill="#C0C0C0"/>
<rect x="1019" y="497" width="1" height="10" fill="#C0C0C0"/>
<rect x="1027" y="491" width="1" height="16" fill="#C0C0C0"/>
<rect x="1035" y="488" width="1" height="19" fill="#C0C0C0"/>
<rect x="1043" y="486" width="1" height="21" fill="#C0C0C0"/>
<rect x="1051" y="485" width="1" height="22" fill="#C0C0C0"/>
<rect x="1059" y="480" width="1" height="27" fill="#C0C0C0"/>
<rect x="1067" y="476" width="1" height="31" fill="#C0C0C0"/>
<rect x="1075" y="474" width="1" height="33" fill="#C0C0C0"/>
<rect x="1083" y="472" width="1" height="35" fill="#C0C0C0"/>
<rect x="1091" y="469" width="1" height="38" fill="#C0C0C0"/>
<rect x="1099" y="468" width="1" height="39" fill="#C0C0C0"/>
<rect x="1107" y="470" width="1" height="37" fill="#C0C0C0"/>
<rect x="1115" y="472" width="1" height="35" fill="#C0C0C0"/>
<rect x="1123" y="473" width="1" height="34" fill="#C0C0C0"/>
<rect x="1131" y="473" width="1" height="34" fill="#C0C0C0"/>
<rect x="1139" y="473" width="1" height="34" fill="#C0C0C0"/>
<rect x="1147" y="475" width="1" height="32" fill="#C0C0C0"/>
<rect x="1155" y="478" width="1" height="29" fill="#C0C0C0"/>
<rect x="1163" y="479" width="1" height="28" fill="#C0C0C0"/>
<rect x="1171" y="480" width="1" height="27" fill="#C0C0C0"/>
<polyline points="3,484.4 11,482.4 16,481.4 19,480.5 23,479.8 27,479.5 35,479.4 51,479.7 59,481.9 67,483.7 75,486.2 83,489.6 91,493 99,496.5 107,500.2 115,503.3 123,505.5 131,507.5 139,508.9 147,509.6 155,510.4 163,510.4 171,510.4 179,511 187,511.5 195,511.8 203,512.7 211,513.9 219,514.9 227,516.1 235,517.8 243,518.6 251,519.5 275,519.5 283,518.6 299,518.1 307,517.4 315,516.1 331,515.2 339,514.4 395,514.4 403,515.6 411,515.6 419,514.4 435,514.4 443,513.5 451,511.8 459,510.6 467,509.6 475,507.2 483,503.3 491,500.4 499,496.5 507,492.4 515,489.7 523,486.3 531,484.3 539,481.6 547,480.7 555,480.7 563,482 571,484.6 579,487.2 587,490.6 595,494 603,496.6 611,498.3 619,500 627,502.2 635,503.4 643,504.6 651,505.6 659,506.3 675,507.2 700,507.2 715,506.5 723,506.5 731,507.3 739,508.5 747,509.4 755,510.6 763,511.3 771,513.9 779,517.3 787,525 795,532.7 803,539.5 811,548 819,556.6 827,565.1 835,574.5 843,581.3 851,587.3 859,589 867,591 875,592.4 883,592.4 891,592.4 899,590.7 907,587.6 915,584.7 923,581.3 931,575.3 939,569.4 947,562.5 955,556.6 963,551.4 971,545.5 979,539.5 987,535.2 995,530.5 1003,525.9 1011,522 1019,517.9 1027,512.4 1035,508.5 1043,504.4 1051,499.3 1059,495.6 1067,492 1075,486.2 1083,482.3 1091,480.3 1099,477.6 1107,475.4 1115,473.8 1123,472.4 1131,471.4 1139,471.4 1147,471.4 1155,471.4 1163,472.4 1168,473.4" fill="none" stroke="#FF0000" stroke-width="1" stroke-dasharray="3 3"/>
<path d="M4 639.5H1477M4 682.5H1477" stroke="#C0C0C0" stroke-width="1" stroke-dasharray="3 3" fill="none"/>
<polyline points="3.5,647.5 11.5,644.6 19.5,644.3 27.5,646.8 35.5,654 43.5,660 51.5,666.3 59.5,665.4 67.5,662.2 75.5,665.1 83.5,672.4 91.5,677.4 99.5,667.2 107.5,663.4 115.5,663.4 123.5,657.1 131.5,660.8 139.5,657.1 147.5,667.3 155.5,664.6 163.5,664.2 171.5,665.1 179.5,666.8 187.5,673.1 195.5,668.5 203.5,669.4 211.5,670.6 219.5,674.5 227.5,671.4 235.5,674.5 243.5,661.3 251.5,661.3 259.5,661.3 267.5,666.3 275.5,658.3 283.5,671.4 291.5,664.6 299.5,665.4 307.5,666.5 315.5,660.8 323.5,659.5 331.5,658.3 339.5,667.2 347.5,668.5 355.5,668.5 363.5,666.5 371.5,666.5 379.5,667.3 387.5,667.3 395.5,664.6 403.5,665.6 411.5,656.6 419.5,662.2 427.5,668.5 435.5,662.5 443.5,654.9 451.5,653.2 459.5,648.9 467.5,647.2 475.5,640.7 483.5,637.3 491.5,640.4 499.5,639.5 507.5,641.4 515.5,641.2 523.5,642.9 531.5,650.9 539.5,664.6 547.5,661.3 555.5,663.4 563.5,667.3 571.5,663.9 579.5,660.3 587.5,662.2 595.5,662.2 603.5,664.2 611.5,666.3 619.5,665.4 627.5,666.5 635.5,663.4 643.5,663.4 651.5,660.3 659.5,657.4 667.5,652.3 675.5,663.4 683.5,662.2 691.5,663.4 699.5,663.4 707.5,659.1 715.5,660.3 723.5,673.6 731.5,672.4 739.5,673.6 747.5,676.2 755.5,678.3 763.5,678.4 771.5,698.4 779.5,696.3 787.5,704.4 795.5,687.3 803.5,680.5 811.5,681.7 819.5,686.4 827.5,685.2 835.5,683.4 843.5,679.6 851.5,680.5 859.5,681.7 867.5,681.3 875.5,682.5 883.5,683.5 891.5,677.6 899.5,677.4 907.5,673.3 915.5,662.5 923.5,661.3 931.5,662.2 939.5,663.4 947.5,658.6 955.5,664.2 963.5,662.2 971.5,660.3 979.5,661.3 987.5,659.5 995.5,657.4 1003.5,656.2 1011.5,645.7 1019.5,643.3 1027.5,642.4 1035.5,645.5 1043.5,647.2 1051.5,650.6 1059.5,641.6 1067.5,640.4 1075.5,640.4 1083.5,643.4 1091.5,638.3 1099.5,641.2 1107.5,651.5 1115.5,649.7 1123.5,648.5 1131.5,645.5 1139.5,645.5 1147.5,649.7 1155.5,654.4 1163.5,651.5 1171.5,650.3" fill="none" stroke="#1E90FF" stroke-width="1"/>
<rect x="2" y="2" width="1477" height="1" fill="#000"/>
<rect x="2" y="2" width="1" height="456" fill="#000"/>
<rect x="2" y="457" width="1477" height="1" fill="#000"/>
<rect x="1478" y="2" width="1" height="456" fill="#000"/>
<rect x="2" y="459" width="1477" height="1" fill="#000"/>
<rect x="2" y="459" width="1" height="146" fill="#000"/>
<rect x="2" y="604" width="1477" height="1" fill="#000"/>
<rect x="1478" y="459" width="1" height="146" fill="#000"/>
<rect x="2" y="606" width="1477" height="1" fill="#000"/>
<rect x="2" y="606" width="1" height="109" fill="#000"/>
<rect x="2" y="714" width="1477" height="1" fill="#000"/>
<rect x="1478" y="606" width="1" height="109" fill="#000"/>
<rect x="1478" y="31" width="1" height="2" fill="#FF0000"/>
<rect x="1478" y="115" width="1" height="2" fill="#FF0000"/>
<rect x="1478" y="213" width="1" height="2" fill="#32CD32"/>
<rect x="1478" y="311" width="1" height="2" fill="#4169E1"/>
<rect x="1478" y="395" width="1" height="2" fill="#4169E1"/>
<polygon points="1176.5,3 1186.5,3 1181.5,8.5" fill="#708090" shape-rendering="geometricPrecision"/>
<rect x="1479" y="25" width="2" height="1" fill="#000"/>
<text x="1484.1" y="29" fill="#000" stroke="#000" stroke-width="0.2" font-size="9.3" textLength="32.94" lengthAdjust="spacingAndGlyphs">1832.50</text>
<rect x="1479" y="58" width="2" height="1" fill="#000"/>
<text x="1484.1" y="62" fill="#000" stroke="#000" stroke-width="0.2" font-size="9.3" textLength="32.94" lengthAdjust="spacingAndGlyphs">1820.60</text>
<rect x="1479" y="91" width="2" height="1" fill="#000"/>
<text x="1484.1" y="95" fill="#000" stroke="#000" stroke-width="0.2" font-size="9.3" textLength="32.94" lengthAdjust="spacingAndGlyphs">1809.05</text>
<rect x="1479" y="124" width="2" height="1" fill="#000"/>
<text x="1484.1" y="128" fill="#000" stroke="#000" stroke-width="0.2" font-size="9.3" textLength="32.94" lengthAdjust="spacingAndGlyphs">1797.15</text>
<rect x="1479" y="157" width="2" height="1" fill="#000"/>
<text x="1484.1" y="161" fill="#000" stroke="#000" stroke-width="0.2" font-size="9.3" textLength="32.94" lengthAdjust="spacingAndGlyphs">1785.25</text>
<rect x="1479" y="190" width="2" height="1" fill="#000"/>
<text x="1484.1" y="194" fill="#000" stroke="#000" stroke-width="0.2" font-size="9.3" textLength="32.94" lengthAdjust="spacingAndGlyphs">1773.70</text>
<rect x="1479" y="223" width="2" height="1" fill="#000"/>
<text x="1484.1" y="227" fill="#000" stroke="#000" stroke-width="0.2" font-size="9.3" textLength="32.94" lengthAdjust="spacingAndGlyphs">1761.80</text>
<rect x="1479" y="256" width="2" height="1" fill="#000"/>
<text x="1484.1" y="260" fill="#000" stroke="#000" stroke-width="0.2" font-size="9.3" textLength="32.94" lengthAdjust="spacingAndGlyphs">1749.90</text>
<rect x="1479" y="289" width="2" height="1" fill="#000"/>
<text x="1484.1" y="293" fill="#000" stroke="#000" stroke-width="0.2" font-size="9.3" textLength="32.94" lengthAdjust="spacingAndGlyphs">1738.35</text>
<rect x="1479" y="322" width="2" height="1" fill="#000"/>
<text x="1484.1" y="326" fill="#000" stroke="#000" stroke-width="0.2" font-size="9.3" textLength="32.94" lengthAdjust="spacingAndGlyphs">1726.45</text>
<rect x="1479" y="355" width="2" height="1" fill="#000"/>
<text x="1484.1" y="359" fill="#000" stroke="#000" stroke-width="0.2" font-size="9.3" textLength="32.94" lengthAdjust="spacingAndGlyphs">1714.55</text>
<rect x="1479" y="388" width="2" height="1" fill="#000"/>
<text x="1484.1" y="392" fill="#000" stroke="#000" stroke-width="0.2" font-size="9.3" textLength="32.94" lengthAdjust="spacingAndGlyphs">1703.00</text>
<rect x="1479" y="421" width="2" height="1" fill="#000"/>
<text x="1484.1" y="425" fill="#000" stroke="#000" stroke-width="0.2" font-size="9.3" textLength="32.94" lengthAdjust="spacingAndGlyphs">1691.10</text>
<rect x="1479" y="454" width="2" height="1" fill="#000"/>
<text x="1484.1" y="458" fill="#000" stroke="#000" stroke-width="0.2" font-size="9.3" textLength="32.94" lengthAdjust="spacingAndGlyphs">1679.55</text>
<rect x="1479" y="461" width="1" height="1" fill="#000"/>
<text x="1481.8" y="470" fill="#000" stroke="#000" stroke-width="0.2" font-size="9.3">10.648</text>
<rect x="1479" y="506" width="2" height="1" fill="#000"/>
<text x="1481.8" y="510" fill="#000" stroke="#000" stroke-width="0.2" font-size="9.3">0.00</text>
<rect x="1479" y="603" width="1" height="1" fill="#000"/>
<text x="1481.8" y="601" fill="#000" stroke="#000" stroke-width="0.2" font-size="9.3">-23.017</text>
<rect x="1479" y="608" width="1" height="1" fill="#000"/>
<text x="1481.8" y="617" fill="#000" stroke="#000" stroke-width="0.2" font-size="9.3">100</text>
<text x="1481" y="643" fill="#000" stroke="#000" stroke-width="0.2" font-size="9.3">70</text>
<text x="1481" y="686" fill="#000" stroke="#000" stroke-width="0.2" font-size="9.3">30</text>
<rect x="1479" y="713" width="1" height="1" fill="#000"/>
<text x="1481.6" y="711" fill="#000" stroke="#000" stroke-width="0.2" font-size="9.3">0</text>
<rect x="1480" y="26" width="41" height="11" fill="#FF0000"/>
<text x="1484.1" y="35" fill="#fff" stroke="#fff" stroke-width="0.2" font-size="9.3" textLength="32.94" lengthAdjust="spacingAndGlyphs">1830.00</text>
<rect x="1480" y="110" width="41" height="11" fill="#FF0000"/>
<text x="1484.1" y="119" fill="#fff" stroke="#fff" stroke-width="0.2" font-size="9.3" textLength="32.94" lengthAdjust="spacingAndGlyphs">1800.00</text>
<rect x="1480" y="208" width="41" height="11" fill="#32CD32"/>
<text x="1484.1" y="217" fill="#fff" stroke="#fff" stroke-width="0.2" font-size="9.3" textLength="32.94" lengthAdjust="spacingAndGlyphs">1765.00</text>
<rect x="1480" y="306" width="41" height="11" fill="#4169E1"/>
<text x="1484.1" y="315" fill="#fff" stroke="#fff" stroke-width="0.2" font-size="9.3" textLength="32.94" lengthAdjust="spacingAndGlyphs">1730.00</text>
<rect x="1480" y="390" width="41" height="11" fill="#4169E1"/>
<text x="1484.1" y="399" fill="#fff" stroke="#fff" stroke-width="0.2" font-size="9.3" textLength="32.94" lengthAdjust="spacingAndGlyphs">1700.00</text>
<rect x="1480" y="146" width="41" height="11" fill="#000"/>
<text x="1484.1" y="155" fill="#fff" stroke="#fff" stroke-width="0.2" font-size="9.3" textLength="32.94" lengthAdjust="spacingAndGlyphs">1787.65</text>
<rect x="3" y="715" width="1" height="3" fill="#000"/>
<text x="2.3" y="727" fill="#000" stroke="#000" stroke-width="0.2" font-size="9.3" textLength="47.03" lengthAdjust="spacingAndGlyphs">15 Jul 2021</text>
<rect x="67" y="715" width="1" height="3" fill="#000"/>
<text x="66.3" y="727" fill="#000" stroke="#000" stroke-width="0.2" font-size="9.3" textLength="49.91" lengthAdjust="spacingAndGlyphs">18 Jul 23:00</text>
<rect x="131" y="715" width="1" height="3" fill="#000"/>
<text x="130.3" y="727" fill="#000" stroke="#000" stroke-width="0.2" font-size="9.3" textLength="49.91" lengthAdjust="spacingAndGlyphs">20 Jul 04:00</text>
<rect x="195" y="715" width="1" height="3" fill="#000"/>
<text x="194.3" y="727" fill="#000" stroke="#000" stroke-width="0.2" font-size="9.3" textLength="49.91" lengthAdjust="spacingAndGlyphs">21 Jul 12:00</text>
<rect x="259" y="715" width="1" height="3" fill="#000"/>
<text x="258.3" y="727" fill="#000" stroke="#000" stroke-width="0.2" font-size="9.3" textLength="49.91" lengthAdjust="spacingAndGlyphs">22 Jul 20:00</text>
<rect x="323" y="715" width="1" height="3" fill="#000"/>
<text x="322.3" y="727" fill="#000" stroke="#000" stroke-width="0.2" font-size="9.3" textLength="49.91" lengthAdjust="spacingAndGlyphs">26 Jul 04:00</text>
<rect x="387" y="715" width="1" height="3" fill="#000"/>
<text x="386.3" y="727" fill="#000" stroke="#000" stroke-width="0.2" font-size="9.3" textLength="49.91" lengthAdjust="spacingAndGlyphs">27 Jul 12:00</text>
<rect x="451" y="715" width="1" height="3" fill="#000"/>
<text x="450.3" y="727" fill="#000" stroke="#000" stroke-width="0.2" font-size="9.3" textLength="49.91" lengthAdjust="spacingAndGlyphs">28 Jul 20:00</text>
<rect x="515" y="715" width="1" height="3" fill="#000"/>
<text x="514.3" y="727" fill="#000" stroke="#000" stroke-width="0.2" font-size="9.3" textLength="49.91" lengthAdjust="spacingAndGlyphs">30 Jul 04:00</text>
<rect x="579" y="715" width="1" height="3" fill="#000"/>
<text x="578.3" y="727" fill="#000" stroke="#000" stroke-width="0.2" font-size="9.3" textLength="50.81" lengthAdjust="spacingAndGlyphs">2 Aug 12:00</text>
<rect x="643" y="715" width="1" height="3" fill="#000"/>
<text x="642.3" y="727" fill="#000" stroke="#000" stroke-width="0.2" font-size="9.3" textLength="50.81" lengthAdjust="spacingAndGlyphs">3 Aug 20:00</text>
<rect x="707" y="715" width="1" height="3" fill="#000"/>
<text x="706.3" y="727" fill="#000" stroke="#000" stroke-width="0.2" font-size="9.3" textLength="50.81" lengthAdjust="spacingAndGlyphs">5 Aug 04:00</text>
<rect x="771" y="715" width="1" height="3" fill="#000"/>
<text x="770.3" y="727" fill="#000" stroke="#000" stroke-width="0.2" font-size="9.3" textLength="50.81" lengthAdjust="spacingAndGlyphs">6 Aug 12:00</text>
<rect x="835" y="715" width="1" height="3" fill="#000"/>
<text x="834.3" y="727" fill="#000" stroke="#000" stroke-width="0.2" font-size="9.3" textLength="50.81" lengthAdjust="spacingAndGlyphs">9 Aug 20:00</text>
<rect x="899" y="715" width="1" height="3" fill="#000"/>
<text x="898.3" y="727" fill="#000" stroke="#000" stroke-width="0.2" font-size="9.3" textLength="56.05" lengthAdjust="spacingAndGlyphs">11 Aug 04:00</text>
<rect x="963" y="715" width="1" height="3" fill="#000"/>
<text x="962.3" y="727" fill="#000" stroke="#000" stroke-width="0.2" font-size="9.3" textLength="56.05" lengthAdjust="spacingAndGlyphs">12 Aug 12:00</text>
<rect x="1027" y="715" width="1" height="3" fill="#000"/>
<text x="1026.3" y="727" fill="#000" stroke="#000" stroke-width="0.2" font-size="9.3" textLength="56.05" lengthAdjust="spacingAndGlyphs">15 Aug 23:00</text>
<rect x="1091" y="715" width="1" height="3" fill="#000"/>
<text x="1090.3" y="727" fill="#000" stroke="#000" stroke-width="0.2" font-size="9.3" textLength="56.05" lengthAdjust="spacingAndGlyphs">17 Aug 04:00</text>
<rect x="1155" y="715" width="1" height="3" fill="#000"/>
<text x="1154.3" y="727" fill="#000" stroke="#000" stroke-width="0.2" font-size="9.3" textLength="56.05" lengthAdjust="spacingAndGlyphs">18 Aug 12:00</text>
<rect x="6" y="9" width="7" height="1" fill="#000"/>
<rect x="7" y="10" width="5" height="1" fill="#000"/>
<rect x="8" y="11" width="3" height="1" fill="#000"/>
<rect x="9" y="12" width="1" height="1" fill="#000"/>
<text x="17.9" y="14.3" fill="#000" stroke="#000" stroke-width="0.2" font-size="9.3" textLength="56.78" lengthAdjust="spacingAndGlyphs">XAUUSD-,H4</text>
<text x="80.8" y="14.3" fill="#000" stroke="#000" stroke-width="0.2" font-size="9.3" textLength="141.37" lengthAdjust="spacingAndGlyphs">1786.39 1788.21 1785.32 1787.65</text>
<text x="6.6" y="472" fill="#000" stroke="#000" stroke-width="0.2" font-size="9.3" textLength="118.64" lengthAdjust="spacingAndGlyphs">MACD(12,26,9) 6.223 7.538</text>
<text x="6.4" y="619" fill="#000" stroke="#000" stroke-width="0.2" font-size="9.3" textLength="68.58" lengthAdjust="spacingAndGlyphs">RSI(14) 59.9467</text>
<rect x="0" y="735" width="1524" height="1" fill="#E6E6E6"/>
<rect x="0" y="737" width="165" height="1" fill="#000"/>
<rect x="259" y="737" width="1265" height="1" fill="#000"/>
<text x="1186" y="274.3" fill="#ED1C24" font-size="36" font-family="'Liberation Sans', 'Noto Sans CJK SC', sans-serif" textLength="262" lengthAdjust="spacingAndGlyphs" shape-rendering="geometricPrecision">多空转折点1765</text></svg>
</body></html>
